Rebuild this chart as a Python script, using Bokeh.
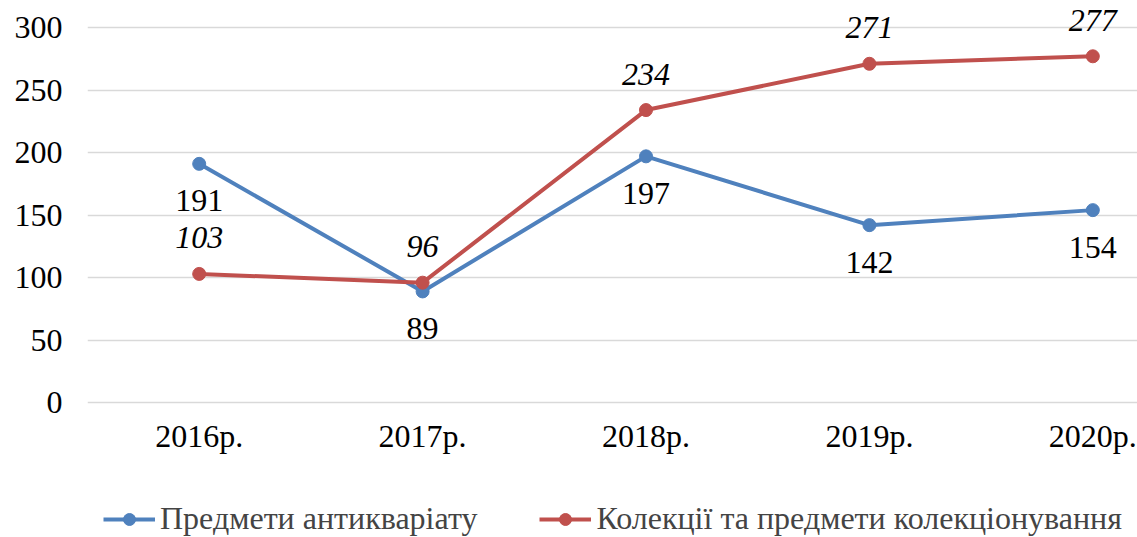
from bokeh.plotting import figure
from bokeh.models import ColumnDataSource, Legend, LegendItem, FixedTicker, Range1d
from bokeh.layouts import column
from bokeh.core.properties import value
from bokeh.embed import file_html
from bokeh.resources import INLINE

years = ["2016р.", "2017р.", "2018р.", "2019р.", "2020р."]
antiques = [191, 89, 197, 142, 154]
collections = [103, 96, 234, 271, 277]
series_names = ["Предмети антикваріату", "Колекції та предмети колекціонування"]
y_ticks = [0, 50, 100, 150, 200, 250, 300]

BLUE = "#4F81BD"
RED = "#C0504D"
FONT = "Liberation Serif, Times New Roman, serif"
FS = "32px"

xs = list(range(len(years)))
src_a = ColumnDataSource(dict(x=xs, y=antiques, t=[str(v) for v in antiques]))
src_c = ColumnDataSource(dict(x=xs, y=collections, t=[str(v) for v in collections]))

p = figure(width=1137, height=487, output_backend="svg", toolbar_location=None,
           x_range=Range1d(-0.5, 4.2), y_range=Range1d(-3, 320),
           min_border_left=87, min_border_right=0, min_border_top=2, min_border_bottom=81)
p.outline_line_color = None
p.background_fill_color = "white"
p.border_fill_color = "white"

p.line("x", "y", source=src_a, line_color=BLUE, line_width=4)
p.scatter("x", "y", source=src_a, size=13, fill_color=BLUE, line_color=BLUE)
p.line("x", "y", source=src_c, line_color=RED, line_width=4)
p.scatter("x", "y", source=src_c, size=13, fill_color=RED, line_color=RED)

p.text("x", "y", text="t", source=src_a, y_offset=37, text_align="center",
       text_baseline="middle", text_font=value(FONT), text_font_size=FS, text_color="black")
p.text("x", "y", text="t", source=src_c, y_offset=-36, text_align="center",
       text_baseline="middle", text_font=value(FONT), text_font_size=FS,
       text_font_style="italic", text_color="black")

p.xaxis.ticker = FixedTicker(ticks=xs)
p.xaxis.major_label_overrides = {i: y for i, y in enumerate(years)}
p.yaxis.ticker = FixedTicker(ticks=y_ticks)
for ax in (p.xaxis[0], p.yaxis[0]):
    ax.axis_line_color = None
    ax.major_tick_line_color = None
    ax.minor_tick_line_color = None
    ax.major_tick_out = 0
    ax.major_tick_in = 0
    ax.major_label_text_font = FONT
    ax.major_label_text_font_size = FS
    ax.major_label_text_color = "black"
p.xaxis.major_label_standoff = 11
p.yaxis.major_label_standoff = 25
p.xgrid.grid_line_color = None
p.ygrid.grid_line_color = "#D9D9D9"
p.ygrid.grid_line_width = 1.5
p.ygrid.ticker = FixedTicker(ticks=y_ticks)

# legend strip below the chart
lg = figure(width=1137, height=50, output_backend="svg", toolbar_location=None,
            x_range=Range1d(0, 1), y_range=Range1d(0, 1),
            min_border_left=0, min_border_right=0, min_border_top=0, min_border_bottom=0)
lg.axis.visible = False
lg.grid.visible = False
lg.outline_line_color = None
off = ColumnDataSource(dict(x=[-5], y=[-5]))
ra = lg.line("x", "y", source=off, line_color=BLUE, line_width=4)
rma = lg.scatter("x", "y", source=off, size=13, fill_color=BLUE, line_color=BLUE)
rc = lg.line("x", "y", source=off, line_color=RED, line_width=4)
rmc = lg.scatter("x", "y", source=off, size=13, fill_color=RED, line_color=RED)

legend = Legend(items=[LegendItem(label=series_names[0], renderers=[ra, rma]),
                       LegendItem(label=series_names[1], renderers=[rc, rmc])],
                orientation="horizontal", location=(16, 0),
                label_text_font=FONT, label_text_font_size=FS,
                glyph_width=52, glyph_height=30, label_height=30,
                label_standoff=5, spacing=62, padding=0, margin=0,
                border_line_color=None, background_fill_alpha=0)
lg.add_layout(legend, "center")

layout = column(p, lg, spacing=0)
open("out.html", "w").write(file_html(layout, INLINE))
